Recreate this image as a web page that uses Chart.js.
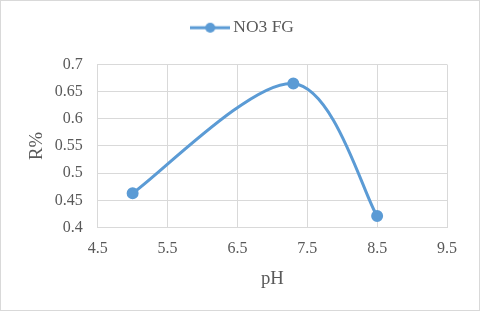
<!DOCTYPE html>
<html>
<head>
<meta charset="utf-8">
<script src="https://cdn.jsdelivr.net/npm/chart.js@4/dist/chart.umd.min.js"></script>
<style>
  html, body { margin: 0; padding: 0; background: #fff; }
  #wrap { width: 480px; height: 311px; box-sizing: border-box; border: 1px solid #d9d9d9; position: relative; }
  canvas { display: block; }
</style>
</head>
<body>
<div id="wrap"><canvas id="c" width="478" height="309"></canvas></div>
<script>
const seriesName = "NO3 FG";
const phValues = [5, 7.3, 8.5];
const rValues = [0.463, 0.665, 0.421];
const xTickRange = [4.5, 9.5];
const yTickRange = [0.4, 0.7];
const xTitle = "pH";
const yTitle = "R%";

const lineColor = "#5b9bd5";
const textColor = "#595959";
const gridColor = "#d9d9d9";
const serif = "'Liberation Serif', 'Times New Roman', serif";

// legend marker: line with circle
const marker = document.createElement('canvas');
marker.width = 40; marker.height = 12;
(function(){
  const m = marker.getContext('2d');
  m.strokeStyle = lineColor; m.lineWidth = 3;
  m.beginPath(); m.moveTo(0, 6); m.lineTo(40, 6); m.stroke();
  m.fillStyle = lineColor;
  m.beginPath(); m.arc(20, 6, 5, 0, Math.PI * 2); m.fill();
})();

const legendMargin = {
  id: 'legendMargin',
  beforeInit(chart) {
    const leg = chart.legend;
    if (!leg) return;
    const f = leg.fit;
    leg.fit = function() { f.call(this); this.height += 18; };
  }
};

// Excel-style smoothing (Catmull-Rom, 1/6 control points) from scale pixel positions
const excelSmooth = {
  id: 'excelSmooth',
  beforeDatasetsDraw(chart) {
    const meta = chart.getDatasetMeta(0);
    const line = meta.dataset;
    line.updateControlPoints(chart.chartArea, 'x');
    const pts = meta.data;
    const n = pts.length;
    for (let i = 0; i < n; i++) {
      const p0 = pts[Math.max(i - 1, 0)], p1 = pts[i], p2 = pts[Math.min(i + 1, n - 1)];
      const dx = (p2.x - p0.x) / 6, dy = (p2.y - p0.y) / 6;
      p1.cp1x = p1.x - dx; p1.cp1y = p1.y - dy;
      p1.cp2x = p1.x + dx; p1.cp2y = p1.y + dy;
    }
    line._path = undefined;
  }
};

new Chart(document.getElementById('c'), {
  type: 'scatter',
  data: {
    datasets: [{
      label: seriesName,
      data: phValues.map((x, i) => ({ x: x, y: rValues[i] })),
      showLine: true,
      borderColor: lineColor,
      backgroundColor: lineColor,
      borderWidth: 3,
      pointRadius: 4.5,
      pointHoverRadius: 4.5,
      pointStyle: 'circle',
      tension: 0.5
    }]
  },
  options: {
    responsive: false,
    animation: false,
    layout: { padding: { top: 8, left: 10, right: 0, bottom: 0 } },
    plugins: {
      tooltip: { enabled: false },
      legend: {
        position: 'top',
        labels: {
          usePointStyle: true,
          pointStyleWidth: 28.5,
          color: textColor,
          font: { family: serif, size: 17.5 },
          padding: 10,
          generateLabels(chart) {
            return [{
              text: seriesName,
              pointStyle: marker,
              fillStyle: lineColor,
              strokeStyle: lineColor,
              lineWidth: 0,
              fontColor: textColor,
              datasetIndex: 0,
              hidden: false
            }];
          }
        }
      }
    },
    scales: {
      x: {
        type: 'linear',
        min: xTickRange[0],
        max: xTickRange[1],
        afterFit(s) { s.height = 82.5; },
        ticks: {
          stepSize: 1,
          color: textColor,
          font: { family: serif, size: 16 },
          padding: 12,
          callback: v => String(Number(v.toFixed(2)))
        },
        grid: { color: gridColor, drawTicks: false, lineWidth: 1 },
        border: { color: gridColor },
        title: {
          display: true, text: xTitle, color: textColor,
          font: { family: serif, size: 18.7 },
          padding: { top: 0, bottom: 20 }
        }
      },
      y: {
        type: 'linear',
        min: yTickRange[0],
        max: yTickRange[1],
        afterFit(s) { s.width = 86.7; },
        ticks: {
          stepSize: 0.05,
          color: textColor,
          font: { family: serif, size: 16 },
          padding: 15,
          callback: v => String(Number(v.toFixed(2)))
        },
        grid: { color: gridColor, drawTicks: false, lineWidth: 1 },
        border: { color: gridColor },
        title: {
          display: true, text: yTitle, color: textColor,
          font: { family: serif, size: 18.7 },
          padding: { top: 15, bottom: 0 }
        }
      },
      spacer: {
        type: 'linear',
        position: 'right',
        display: true,
        afterFit(s) { s.width = 32; },
        ticks: { display: false },
        grid: { display: false, drawTicks: false },
        border: { display: false }
      }
    }
  },
  plugins: [legendMargin, excelSmooth]
});
</script>
</body>
</html>
